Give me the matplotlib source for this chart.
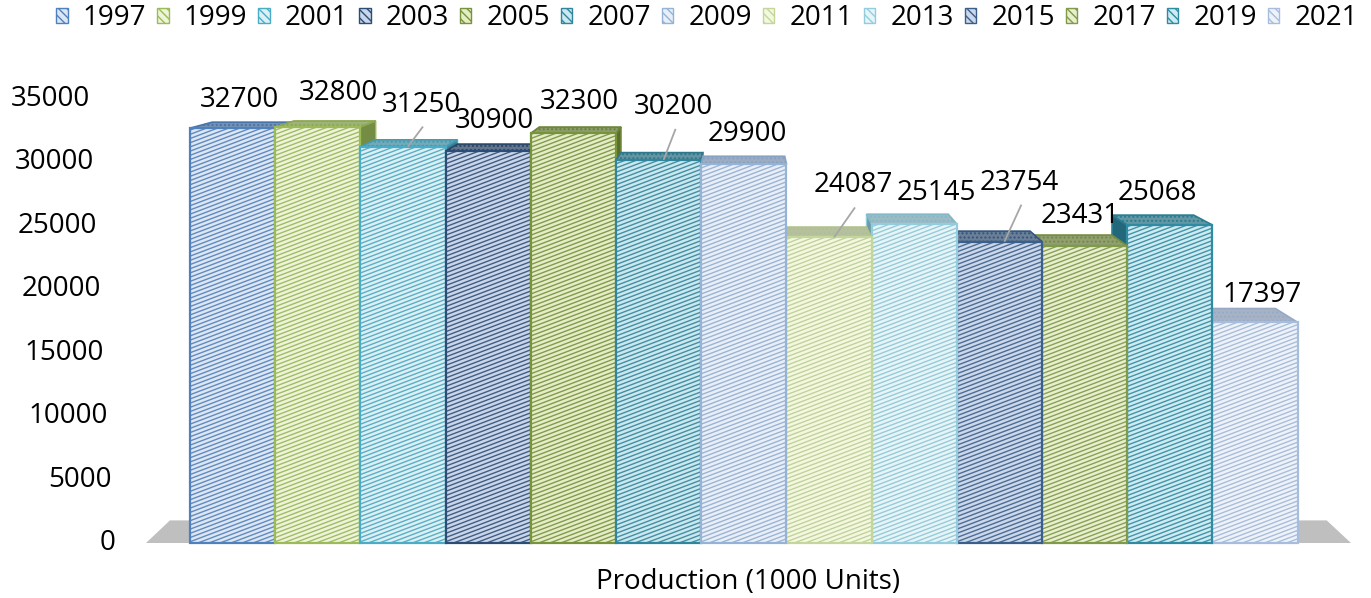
import numpy as np
import matplotlib
matplotlib.use('Agg')
import matplotlib.pyplot as plt
import matplotlib.colors as mcolors
from matplotlib.patches import Polygon, Rectangle, Patch
from matplotlib.collections import LineCollection

# ---------------- data ----------------
years = ['1997', '1999', '2001', '2003', '2005', '2007', '2009',
         '2011', '2013', '2015', '2017', '2019', '2021']
production = [32700, 32800, 31250, 30900, 32300, 30200, 29900,
              24087, 25145, 23754, 23431, 25068, 17397]
y_ticks = [0, 5000, 10000, 15000, 20000, 25000, 30000, 35000]
x_title = 'Production (1000 Units)'

# ---------------- styles ----------------
series_colors = ['#4F81BD', '#9BBB59', '#4BACC6', '#2C4D75', '#77933C', '#31859C', '#95B3D7',
                 '#C3D69B', '#93CDDD', '#3A5F8B', '#7F9A48', '#2E8BA2', '#A7BDDE']
face_colors = ['#DCE6F4', '#EEF4D8', '#DAF0F5', '#C8D5EA', '#E4EDC6', '#C9E8EF', '#E9EFF8',
               '#F3F8DF', '#E6F5F8', '#CBD7EB', '#E7EFCD', '#CDEBF2', '#EEF3FA']
# label offsets (pixels) from the bar's front-top centre, and leader flags
label_dx = [7, 21, 18, 6, 6, 15, 4, 24, 22, 20, -4, -12, 7]
label_dy = [-28, -34, -42, -30, -31, -53, -30, -52, -31, -59, -30, -32, -27]
leader = [False, False, True, False, False, True, False, True, False, True, False, False, False]

FONT = ['Open Sans', 'DejaVu Sans']
plt.rcParams['font.family'] = FONT
FS = 20

W, H, DPI = 1371, 598, 100
fig = plt.figure(figsize=(W / DPI, H / DPI), dpi=DPI)
fig.patch.set_facecolor('white')

# pixel geometry of the plot
AX_L, AX_R, AX_T, AX_B = 120, 1365, 60, 565
BAR0_PX, BAR_W_PX = 190.0, 85.2
BASE_PX, TOP_PX, YMAX = 543.0, 99.0, 35000.0

def px2x(px):
    return (px - BAR0_PX) / BAR_W_PX - 0.5

def py2y(py):
    return (BASE_PX - py) / (BASE_PX - TOP_PX) * YMAX

ax = fig.add_axes([AX_L / W, 1 - AX_B / H, (AX_R - AX_L) / W, (AX_B - AX_T) / H])
ax.set_xlim(px2x(AX_L), px2x(AX_R))
ax.set_ylim(py2y(AX_B), py2y(AX_T))
ax.axis('off')

px_per_y = (BASE_PX - TOP_PX) / YMAX
n = len(production)
VX = (n - 1) / 2.0
VY = py2y(-22)
S = 0.96

def back(x, y):
    return (VX + (x - VX) * S, VY + (y - VY) * S)

def mix(c1, c2, t):
    a = np.array(mcolors.to_rgb(c1))
    b = np.array(mcolors.to_rgb(c2))
    return tuple(a * (1 - t) + b * t)

# floor
fl, fr = px2x(146), px2x(1351)
floor = Polygon([(fl, 0), (fr, 0), back(fr, 0), back(fl, 0)], closed=True,
                facecolor='#BFBFBF', edgecolor='none', zorder=1)
ax.add_patch(floor)

STRIPE_SLOPE_PX = 0.38
STRIPE_GAP_PX = 4.2
slope = STRIPE_SLOPE_PX * BAR_W_PX / px_per_y
gap = STRIPE_GAP_PX / px_per_y

order = list(range(0, int(VX))) + list(range(n - 1, int(VX), -1)) + [int(VX)]
z = 2
for i in order:
    v = production[i]
    c = series_colors[i]
    fc = face_colors[i]
    x0, x1 = i - 0.5, i + 0.5
    # side face toward the viewer
    if i < VX:
        side = [(x1, 0), (x1, v), back(x1, v), back(x1, 0)]
    elif i > VX:
        side = [(x0, 0), (x0, v), back(x0, v), back(x0, 0)]
    else:
        side = None
    if side is not None:
        ax.add_patch(Polygon(side, closed=True, facecolor=mix(c, '#000000', 0.25),
                             edgecolor=c, linewidth=1.0, zorder=z))
    z += 1
    # top face
    top = [(x0, v), (x1, v), back(x1, v), back(x0, v)]
    ax.add_patch(Polygon(top, closed=True, facecolor=mix(c, '#A6A6A6', 0.45),
                         edgecolor=mix(c, '#000000', 0.1), linewidth=1.2,
                         hatch='....', zorder=z))
    z += 1
    # front face
    rect = Rectangle((x0, 0), 1.0, v, facecolor=fc, edgecolor='none', zorder=z)
    ax.add_patch(rect)
    z += 1
    starts = np.arange(-slope, v + gap, gap)
    segs = [[(x0, s), (x1, s + slope)] for s in starts]
    lc = LineCollection(segs, colors=[mix(c, '#000000', 0.05)], linewidths=1.0,
                        alpha=0.85, zorder=z)
    ax.add_collection(lc, autolim=False)
    lc.set_clip_path(rect)
    z += 1
    ax.add_patch(Rectangle((x0, 0), 1.0, v, fill=False, edgecolor=c,
                           linewidth=1.6, zorder=z))
    z += 1

# data labels
for i, v in enumerate(production):
    cx = i * BAR_W_PX + BAR0_PX + BAR_W_PX / 2
    cy = BASE_PX - v * px_per_y
    lx, ly = cx + label_dx[i], cy + label_dy[i]
    ax.text(px2x(lx), py2y(ly), f'{v}', ha='center', va='center',
            fontsize=FS, color='#000000', zorder=100)
    if leader[i]:
        ax.plot([px2x(lx + 2), px2x(cx + 5)], [py2y(ly + 22), py2y(cy)],
                color='#A6A6A6', linewidth=1.3, zorder=99, solid_capstyle='butt')

# y tick labels (slanted along the wall edge)
for t in y_ticks:
    rx = 115 - 25 * (t / YMAX)
    ax.text(px2x(rx), t, f'{t}', ha='right', va='center', fontsize=FS,
            color='#000000', zorder=100)

# axis title
fig.text(748 / W, 1 - 582 / H, x_title, ha='center', va='center',
         fontsize=FS, color='#000000')

# legend
handles = [Patch(facecolor=face_colors[i], edgecolor=series_colors[i], hatch='\\\\\\\\',
                 linewidth=1.0) for i in range(n)]
fig.legend(handles, years, loc='center', bbox_to_anchor=(707 / W, 1 - 18 / H),
           ncol=n, frameon=False, fontsize=FS, handlelength=0.42, handleheight=0.45,
           handletextpad=0.55, columnspacing=0.38, borderpad=0, borderaxespad=0)

fig.savefig('out.png', dpi=DPI, facecolor='white')
